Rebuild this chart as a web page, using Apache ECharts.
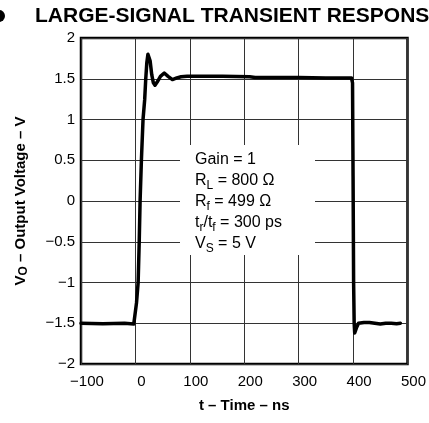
<!DOCTYPE html>
<html>
<head>
<meta charset="utf-8">
<script src="https://cdn.jsdelivr.net/npm/echarts@6/dist/echarts.min.js"></script>
<style>
html,body{margin:0;padding:0;background:#fff;}
#c{width:429px;height:423px;}
</style>
</head>
<body>
<div id="c"></div>
<script>
// Data
const timeNs = [-100, -60, -20, -3, 0, 2, 5, 7, 8.6, 11, 14, 17, 19, 21, 23, 24, 25.5, 27, 30, 33, 36, 40, 46, 53, 60, 68, 76, 84, 95, 120, 160, 210, 220, 260, 300, 350, 390, 397, 399, 400, 401, 402, 403, 406, 410, 420, 430, 440, 450, 460, 470, 480, 487];
const voltage = [-1.5, -1.505, -1.5, -1.51, -1.53, -1.25, -1.0, -0.5, 0, 0.5, 1.0, 1.24, 1.5, 1.7, 1.8, 1.82, 1.8, 1.72, 1.55, 1.45, 1.42, 1.46, 1.53, 1.57, 1.53, 1.49, 1.51, 1.525, 1.53, 1.53, 1.53, 1.525, 1.515, 1.515, 1.515, 1.51, 1.51, 1.51, 1.45, 0.3, -1.0, -1.5, -1.62, -1.56, -1.5, -1.49, -1.49, -1.5, -1.51, -1.5, -1.5, -1.505, -1.5];
const xTickValues = [-100, 0, 100, 200, 300, 400, 500];
const xTickLabels = ['\u2212100', '0', '100', '200', '300', '400', '500'];
const yTickValues = [-2, -1.5, -1, -0.5, 0, 0.5, 1, 1.5, 2];
const yTickLabels = ['\u22122', '\u22121.5', '\u22121', '\u22120.5', '0', '0.5', '1', '1.5', '2'];
const titleText = 'LARGE-SIGNAL TRANSIENT RESPONSE';
const xName = 't \u2013 Time \u2013 ns';
const annotationLines = [
  '{n|Gain = 1}',
  '{n|R}{s|L}{n| = 800 \u03A9}',
  '{n|R}{s|f}{n| = 499 \u03A9}',
  '{n|t}{s|r}{n|/t}{s|f}{n| = 300 ps}',
  '{n|V}{s|S}{n| = 5 V}'
];

const FONT = '"Liberation Sans", Arial, Helvetica, sans-serif';
const seriesData = timeNs.map((t, i) => [t, voltage[i]]);

function lookup(values, labels) {
  return function (v) {
    for (let i = 0; i < values.length; i++) {
      if (Math.abs(values[i] - v) < 1e-9) return labels[i];
    }
    return '';
  };
}

const chart = echarts.init(document.getElementById('c'), null, {renderer: 'canvas'});
chart.setOption({
  animation: false,
  backgroundColor: '#fff',
  title: {
    text: titleText,
    left: 35,
    top: 5,
    padding: 0,
    textStyle: {fontFamily: FONT, fontWeight: 'bold', fontSize: 21, color: '#000', lineHeight: 22}
  },
  grid: {
    left: 81, right: 20, top: 38, bottom: 59,
    show: true, borderColor: '#000', borderWidth: 2.5, backgroundColor: 'transparent'
  },
  xAxis: {
    type: 'value',
    min: -100, max: 500, interval: 100,
    name: xName,
    nameLocation: 'middle',
    nameGap: 34,
    nameTextStyle: {fontFamily: FONT, fontWeight: 'bold', fontSize: 15, color: '#000'},
    axisLine: {show: false},
    axisTick: {show: false},
    axisLabel: {
      fontFamily: FONT, fontSize: 15, color: '#000', margin: 10,
      padding: [0, 0, 0, 12],
      formatter: lookup(xTickValues, xTickLabels)
    },
    splitLine: {show: true, lineStyle: {color: '#333', width: 1}}
  },
  yAxis: {
    type: 'value',
    min: -2, max: 2, interval: 0.5,
    name: '{b|V}{s|O}{b| \u2013 Output Voltage \u2013 V}',
    nameLocation: 'middle',
    nameRotate: 90,
    nameGap: 51,
    nameTextStyle: {
      fontFamily: FONT, fontWeight: 'bold', fontSize: 15, color: '#000',
      rich: {
        b: {fontFamily: FONT, fontWeight: 'bold', fontSize: 15, color: '#000', lineHeight: 18},
        s: {fontFamily: FONT, fontWeight: 'bold', fontSize: 12, color: '#000', lineHeight: 13, verticalAlign: 'bottom'}
      }
    },
    axisLine: {show: false},
    axisTick: {show: false},
    axisLabel: {
      fontFamily: FONT, fontSize: 15, color: '#000', margin: 6,
      formatter: lookup(yTickValues, yTickLabels)
    },
    splitLine: {show: true, lineStyle: {color: '#333', width: 1}}
  },
  series: [{
    type: 'line',
    data: seriesData,
    showSymbol: false,
    symbol: 'none',
    smooth: false,
    clip: false,
    lineStyle: {color: '#000', width: 3.5, cap: 'round', join: 'round'},
    z: 5
  }],
  graphic: [
    {
      type: 'circle',
      shape: {cx: -1, cy: 16, r: 6},
      style: {fill: '#000'}
    },
    {
      type: 'rect',
      shape: {x: 180, y: 145, width: 135, height: 110},
      style: {fill: '#fff'},
      z: 50
    },
    {
      type: 'text',
      x: 195, y: 149.5,
      z: 51,
      style: {
        text: annotationLines.join('\n'),
        fill: '#000',
        font: '16px ' + FONT,
        verticalAlign: 'top',
        align: 'left',
        rich: {
          n: {fontFamily: FONT, fontSize: 16, fill: '#000', lineHeight: 21},
          s: {fontFamily: FONT, fontSize: 12, fill: '#000', lineHeight: 15, verticalAlign: 'bottom'}
        }
      }
    }
  ]
});
</script>
</body>
</html>
